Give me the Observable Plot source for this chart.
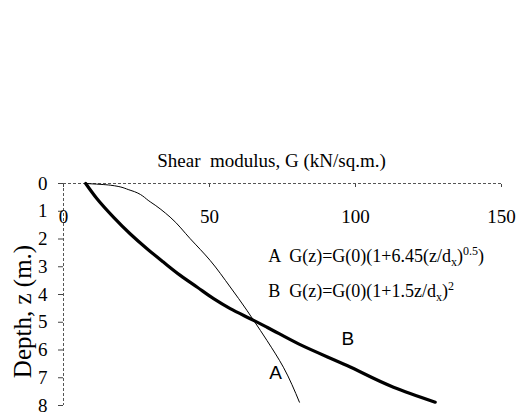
<!DOCTYPE html>
<html>
<head>
<meta charset="utf-8">
<script src="https://cdn.jsdelivr.net/npm/d3@7"></script>
<script src="https://cdn.jsdelivr.net/npm/@observablehq/plot@0.6"></script>
<style>
  html, body { margin: 0; padding: 0; background: #fff; }
  svg text { white-space: pre; }
</style>
</head>
<body>
<div id="chart"></div>
<script>
// Curve A (thin): G(z) = G(0)(1+6.45(z/dx)^0.5)
const depthA   = [0, 0.06, 0.24, 0.66, 1.21, 1.99, 2.77, 3.73, 4.57, 4.93, 5.66, 6.62, 7.88];
const modulusA = [7.6, 16.0, 22.8, 29.7, 36.5, 43.4, 50.2, 57.1, 62.8, 65.1, 69.7, 75.3, 80.8];
// Curve B (thick): G(z) = G(0)(1+1.5z/dx)^2
const depthB   = [0, 0.54, 1.21, 1.81, 2.35, 2.83, 3.31, 3.73, 4.15, 4.51, 4.93, 5.18, 5.78, 6.56, 7.34, 7.88];
const modulusB = [7.6, 11.4, 17.1, 22.8, 28.6, 34.2, 40.0, 45.7, 51.4, 57.1, 65.1, 69.7, 80.5, 97.1, 113.0, 127.3];

const xTicks = [0, 50, 100, 150];
const yTicks = [0, 1, 2, 3, 4, 5, 6, 7, 8];

const titleText = "Shear  modulus, G (kN/sq.m.)";
const yLabelText = "Depth, z (m.)";

// Legend formulas as [text, kind] parts
const formulaA = [["A  G(z)=G(0)(1+6.45(z/d", ""], ["x", "sub"], [")", ""], ["0.5", "sup"], [")", ""]];
const formulaB = [["B  G(z)=G(0)(1+1.5z/d", ""], ["x", "sub"], [")", ""], ["2", "sup"]];
const legendFormulas = [formulaA, formulaB];
const legendX = [70.1, 70.1];
const legendY = [2.62, 3.88];

const curveLabels = ["B", "A"];
const curveLabelX = [97.4, 72.6];
const curveLabelY = [5.6, 6.82];

const lineA = depthA.map((z, i) => ({z, g: modulusA[i]}));
const lineB = depthB.map((z, i) => ({z, g: modulusB[i]}));
const legendRows = legendFormulas.map((parts, i) => ({
  text: parts.map(p => p[0]).join(""), x: legendX[i], y: legendY[i], parts
}));
const labelRows = curveLabels.map((t, i) => ({t, x: curveLabelX[i], y: curveLabelY[i]}));

const chart = Plot.plot({
  width: 517,
  height: 415,
  marginLeft: 63,
  marginRight: 16,
  marginTop: 183,
  marginBottom: 10,
  style: {fontFamily: "'Liberation Serif', 'Times New Roman', serif", fontSize: "19px", background: "#fff", color: "#000", overflow: "visible"},
  x: {domain: [0, 150]},
  y: {domain: [0, 8], reverse: true},
  marks: [
    Plot.ruleY([0], {stroke: "#555", strokeWidth: 1, strokeDasharray: "3,2"}),
    Plot.ruleX([0], {stroke: "#555", strokeWidth: 1, strokeDasharray: "3,2"}),
    Plot.axisY({ticks: yTicks, tickSize: 5, tickPadding: 11, label: null, fontSize: 19, stroke: "#444"}),
    Plot.axisX({anchor: "top", ticks: xTicks, tickSize: -3, tickFormat: () => "", label: null, stroke: "#444"}),
    Plot.text(xTicks, {x: d => d, frameAnchor: "top", dy: 26, text: d => String(d), fontSize: 19}),
    Plot.line(lineA, {x: "g", y: "z", stroke: "#000", strokeWidth: 1, curve: "monotone-y"}),
    Plot.line(lineB, {x: "g", y: "z", stroke: "#000", strokeWidth: 3.2, curve: "monotone-y"}),
    Plot.text([titleText], {frameAnchor: "top", dx: -11, dy: -30, fontSize: 19}),
    Plot.text([yLabelText], {frameAnchor: "left", textAnchor: "middle", rotate: -90, dx: -41, dy: 17, fontSize: 25}),
    Plot.text(legendRows, {x: "x", y: "y", text: "text", textAnchor: "start", fontSize: 18}),
    Plot.text(labelRows, {x: "x", y: "y", text: "t", fontFamily: "'Liberation Sans', Arial, sans-serif", fontSize: 19})
  ]
});

// Rebuild legend formulas with sub/superscripts
d3.select(chart).selectAll("text").each(function() {
  const row = legendRows.find(r => r.text === this.textContent);
  if (!row) return;
  const sel = d3.select(this);
  sel.text(null);
  let shift = 0;
  for (const [t, kind] of row.parts) {
    const target = kind === "sup" ? -7 : kind === "sub" ? 4 : 0;
    const ts = sel.append("tspan").attr("dy", target - shift).text(t);
    if (kind) ts.attr("font-size", 12);
    shift = target;
  }
});

document.getElementById("chart").appendChild(chart);
</script>
</body>
</html>
